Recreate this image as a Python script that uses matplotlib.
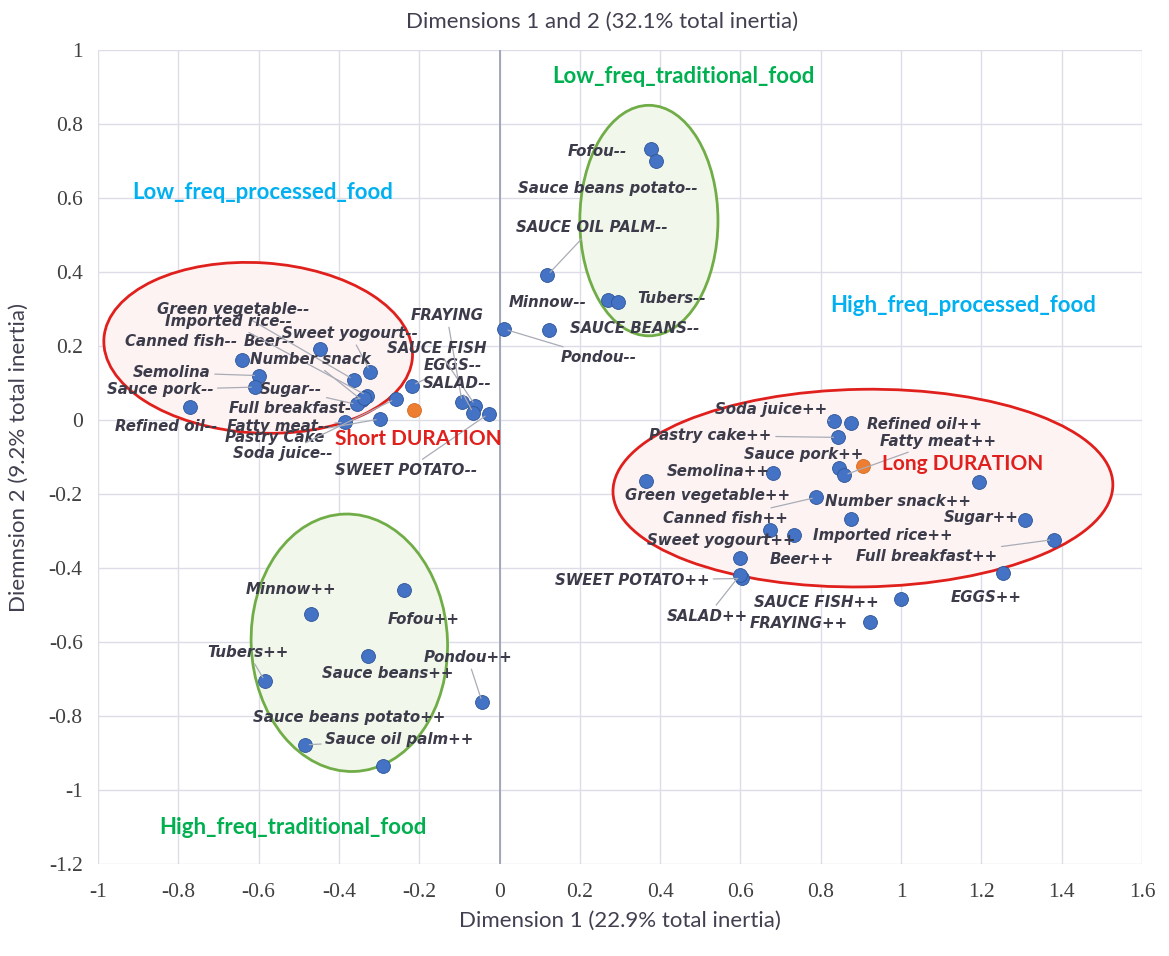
import matplotlib
matplotlib.use('Agg')
import matplotlib.pyplot as plt
from matplotlib.patches import Ellipse

# ---------------------------------------------------------------
# Data: coordinates of the categories on dimensions 1 and 2
# ---------------------------------------------------------------
low_proc_names = ['Refined oil--', 'Canned fish--', 'Semolina', 'Sauce pork--', 'Beer--',
                  'Green vegetable--', 'Sweet yogourt--', 'Imported rice--', 'Number snack',
                  'Sugar--', 'Full breakfast-', 'Fatty meat--', 'Pastry Cake', 'Soda juice--',
                  'EGGS--', 'FRAYING', 'SAUCE FISH', 'SALAD--', 'SWEET POTATO--']
low_proc_x = [-0.771, -0.642, -0.600, -0.608, -0.446, -0.363, -0.322, -0.330, -0.342,
              -0.355, -0.337, -0.384, -0.297, -0.259, -0.218, -0.093, -0.060, -0.065, -0.027]
low_proc_y = [0.036, 0.161, 0.120, 0.089, 0.191, 0.109, 0.131, 0.066, 0.053,
              0.042, 0.060, -0.006, 0.003, 0.057, 0.093, 0.048, 0.039, 0.018, 0.017]

low_trad_names = ['Fofou--', 'Sauce beans potato--', 'SAUCE OIL PALM--', 'Minnow--',
                  'Tubers--', 'SAUCE BEANS--', 'Pondou--']
low_trad_x = [0.377, 0.389, 0.119, 0.269, 0.294, 0.123, 0.011]
low_trad_y = [0.733, 0.701, 0.391, 0.323, 0.318, 0.244, 0.246]

high_trad_names = ['Fofou++', 'Minnow++', 'Sauce beans++', 'Tubers++', 'Pondou++',
                   'Sauce oil palm++', 'Sauce beans potato++']
high_trad_x = [-0.239, -0.470, -0.327, -0.584, -0.043, -0.484, -0.290]
high_trad_y = [-0.459, -0.524, -0.639, -0.706, -0.763, -0.878, -0.936]

high_proc_names = ['Soda juice++', 'Refined oil++', 'Pastry cake++', 'Sauce pork++',
                   'Fatty meat++', 'Semolina++', 'Green vegetable++', 'Canned fish++',
                   'Number snack++', '', 'Sugar++', 'Full breakfast++', 'Sweet yogourt++',
                   'Imported rice++', 'Beer++', 'SWEET POTATO++', 'SALAD++', 'EGGS++',
                   'SAUCE FISH++', 'FRAYING++']
high_proc_x = [0.832, 0.875, 0.842, 0.845, 0.858, 0.682, 0.364, 0.789, 0.875, 1.195,
               1.309, 1.380, 0.673, 0.733, 0.600, 0.604, 0.598, 1.253, 0.999, 0.922]
high_proc_y = [-0.003, -0.009, -0.047, -0.131, -0.149, -0.143, -0.165, -0.209, -0.268, -0.168,
               -0.270, -0.323, -0.298, -0.312, -0.372, -0.428, -0.420, -0.414, -0.484, -0.545]

# supplementary variable (duration)
dur_names = ['Short DURATION', 'Long DURATION']
dur_x = [-0.214, 0.905]
dur_y = [0.026, -0.124]

# ---------------------------------------------------------------
# Layout: label positions (left edge, middle) and leader lines
# ---------------------------------------------------------------
label_pos = {
    'Green vegetable--': (-0.853, 0.299), 'Imported rice--': (-0.833, 0.266),
    'Canned fish--': (-0.933, 0.212), 'Beer--': (-0.638, 0.212),
    'Sweet yogourt--': (-0.541, 0.234), 'Number snack': (-0.621, 0.164),
    'Semolina': (-0.913, 0.128), 'Sauce pork--': (-0.978, 0.082),
    'Sugar--': (-0.596, 0.082), 'Full breakfast-': (-0.673, 0.031),
    'Refined oil--': (-0.958, -0.018), 'Fatty meat--': (-0.678, -0.018),
    'Pastry Cake': (-0.683, -0.047), 'Soda juice--': (-0.663, -0.091),
    'SWEET POTATO--': (-0.409, -0.136), 'FRAYING': (-0.222, 0.282),
    'SAUCE FISH': (-0.279, 0.193), 'EGGS--': (-0.190, 0.147), 'SALAD--': (-0.190, 0.099),
    'Fofou--': (0.170, 0.726), 'Sauce beans potato--': (0.047, 0.626),
    'SAUCE OIL PALM--': (0.042, 0.520), 'Minnow--': (0.022, 0.318),
    'Tubers--': (0.344, 0.328), 'SAUCE BEANS--': (0.175, 0.247), 'Pondou--': (0.152, 0.169),
    'Minnow++': (-0.633, -0.458), 'Fofou++': (-0.279, -0.539), 'Tubers++': (-0.728, -0.628),
    'Sauce beans++': (-0.441, -0.685), 'Pondou++': (-0.190, -0.642),
    'Sauce beans potato++': (-0.613, -0.804), 'Sauce oil palm++': (-0.434, -0.864),
    'Soda juice++': (0.536, 0.028), 'Refined oil++': (0.914, -0.012),
    'Pastry cake++': (0.373, -0.042), 'Fatty meat++': (0.948, -0.058),
    'Sauce pork++': (0.609, -0.093), 'Semolina++': (0.416, -0.139),
    'Green vegetable++': (0.313, -0.205), 'Number snack++': (0.810, -0.219),
    'Canned fish++': (0.407, -0.266), 'Sugar++': (1.107, -0.264),
    'Imported rice++': (0.781, -0.312), 'Sweet yogourt++': (0.368, -0.326),
    'Full breakfast++': (0.888, -0.369), 'Beer++': (0.673, -0.376),
    'SWEET POTATO++': (0.137, -0.434), 'EGGS++': (1.124, -0.479),
    'SAUCE FISH++': (0.635, -0.493), 'SALAD++': (0.416, -0.531), 'FRAYING++': (0.622, -0.550),
    'Short DURATION': (-0.409, -0.050), 'Long DURATION': (0.953, -0.119),
}
leaders = ['Semolina', 'Sauce pork--', 'Green vegetable--', 'Sweet yogourt--', 'Imported rice--',
           'Number snack', 'Sugar--', 'Full breakfast-', 'Fatty meat--', 'Pastry Cake',
           'Soda juice--', 'EGGS--', 'FRAYING', 'SAUCE FISH', 'SALAD--', 'SWEET POTATO--',
           'SAUCE OIL PALM--', 'Pondou--', 'Tubers++', 'Pondou++', 'Sauce oil palm++',
           'Soda juice++', 'Pastry cake++', 'Fatty meat++', 'Canned fish++',
           'Full breakfast++', 'SWEET POTATO++', 'SALAD++']

blue = '#4472c4'
orange = '#ed7d31'
red = '#e0201c'
green = '#70ad47'
txt = '#3b3b4a'

fig = plt.figure(figsize=(11.69, 9.56), dpi=100)
ax = fig.add_axes([0.0838, 0.0962, 0.8931, 0.8515])
ax.set_xlim(-1, 1.6)
ax.set_ylim(-1.2, 1)
ax.set_xticks([-1, -0.8, -0.6, -0.4, -0.2, 0, 0.2, 0.4, 0.6, 0.8, 1, 1.2, 1.4, 1.6])
ax.set_yticks([-1.2, -1, -0.8, -0.6, -0.4, -0.2, 0, 0.2, 0.4, 0.6, 0.8, 1])
ax.set_xticklabels(['-1', '-0.8', '-0.6', '-0.4', '-0.2', '0', '0.2', '0.4', '0.6', '0.8',
                    '1', '1.2', '1.4', '1.6'])
ax.set_yticklabels(['-1.2', '-1', '-0.8', '-0.6', '-0.4', '-0.2', '0', '0.2', '0.4', '0.6',
                    '0.8', '1'])
for s in ax.spines.values():
    s.set_visible(False)
ax.grid(True, color='#dcdde6', lw=1.0)
ax.set_axisbelow(True)
ax.tick_params(length=0, labelsize=15.5, labelcolor='#404040')
ax.tick_params(axis='x', pad=14)
ax.tick_params(axis='y', pad=11)
for lab in ax.get_xticklabels() + ax.get_yticklabels():
    lab.set_family('Liberation Serif')
ax.axvline(0, color='#9aa3b5', lw=1.3, zorder=1)

# ellipses around the groups
ax.add_patch(Ellipse((-0.601, 0.195), 0.77, 0.46, angle=-4, facecolor='#fdf3f3',
                     edgecolor=red, lw=2, zorder=1.5))
ax.add_patch(Ellipse((0.905, -0.184), 1.245, 0.534, angle=1, facecolor='#fdf3f3',
                     edgecolor=red, lw=2, zorder=1.5))
ax.add_patch(Ellipse((0.372, 0.539), 0.344, 0.623, angle=0, facecolor='#f2f7ec',
                     edgecolor=green, lw=2, zorder=1.5))
ax.add_patch(Ellipse((-0.374, -0.602), 0.489, 0.696, angle=2, facecolor='#f2f7ec',
                     edgecolor=green, lw=2, zorder=1.5))

names = low_proc_names + low_trad_names + high_trad_names + high_proc_names
xs = low_proc_x + low_trad_x + high_trad_x + high_proc_x
ys = low_proc_y + low_trad_y + high_trad_y + high_proc_y

ax.scatter(xs, ys, s=100, color=blue, edgecolor='#2f5597', lw=0.6, zorder=4)
ax.scatter(dur_x, dur_y, s=100, color=orange, edgecolor='#d86a20', lw=0.6, zorder=4)

lab_font = dict(family='DejaVu Sans', weight='bold', style='italic', size=10.8, color=txt)
for name, x, y in zip(names, xs, ys):
    if not name:
        continue
    tx, ty = label_pos[name]
    if name in leaders:
        ax.annotate(name, xy=(x, y), xytext=(tx, ty), ha='left', va='center', zorder=5,
                    arrowprops=dict(arrowstyle='-', color='#a9acb6', lw=0.9,
                                    shrinkA=1, shrinkB=3), **lab_font)
    else:
        ax.text(tx, ty, name, ha='left', va='center', zorder=5, **lab_font)

for name in dur_names:
    tx, ty = label_pos[name]
    ax.text(tx, ty, name, ha='left', va='center', color=red, fontsize=15,
            fontweight='bold', family='Lato', zorder=5)

# group names
grp = dict(family='Lato', fontweight='bold', fontsize=16, ha='center', va='center')
ax.text(-0.590, 0.615, 'Low_freq_processed_food', color='#00b0f0', **grp)
ax.text(0.459, 0.929, 'Low_freq_traditional_food', color='#00b050', **grp)
ax.text(1.155, 0.309, 'High_freq_processed_food', color='#00b0f0', **grp)
ax.text(-0.514, -1.100, 'High_freq_traditional_food', color='#00b050', **grp)

fig.text(0.515, 0.977, 'Dimensions 1 and 2 (32.1% total inertia)', ha='center', va='center',
         fontsize=16, family='Lato', color='#404050')
ax.set_xlabel('Dimension 1 (22.9% total inertia)', fontsize=16, family='Lato',
              color='#404050', labelpad=6)
ax.set_ylabel('Diemnsion 2 (9.2% total inertia)', fontsize=16, family='Lato',
              color='#404050', labelpad=14)

plt.savefig('out.png', dpi=100, facecolor='w')
plt.close()
